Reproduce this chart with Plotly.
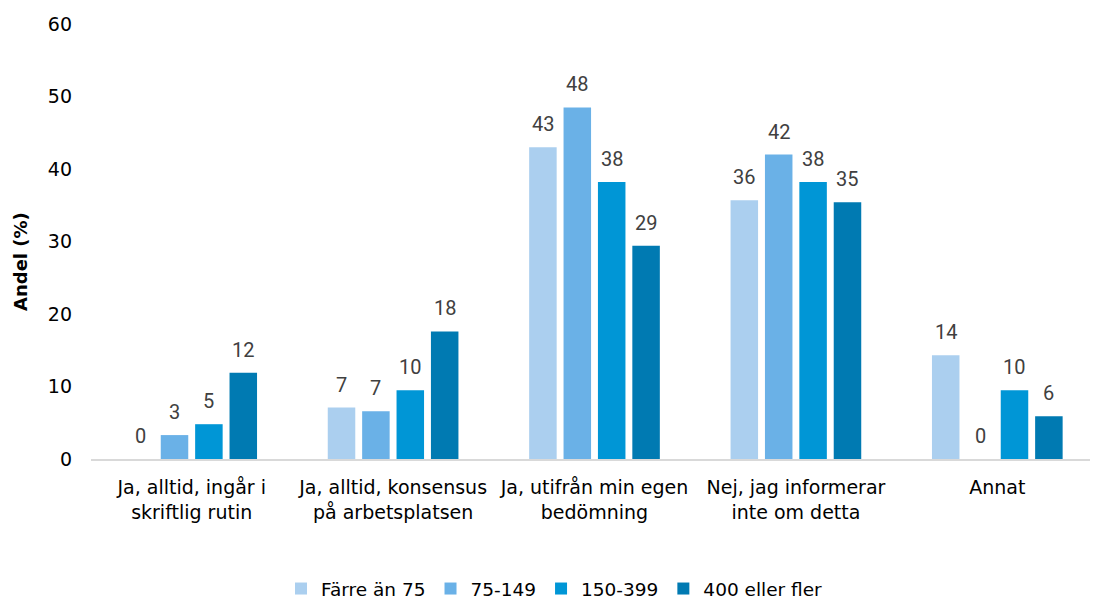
import plotly.graph_objects as go

categories = [
    "Ja, alltid, ingår i<br>skriftlig rutin",
    "Ja, alltid, konsensus<br>på arbetsplatsen",
    "Ja, utifrån min egen<br>bedömning",
    "Nej, jag informerar<br>inte om detta",
    "Annat",
]
series_names = ["Färre än 75", "75-149", "150-399", "400 eller fler"]
farre_an_75 = [0.0, 7.1, 43.0, 35.7, 14.3]
s_75_149 = [3.3, 6.6, 48.5, 42.0, 0.0]
s_150_399 = [4.8, 9.5, 38.2, 38.2, 9.5]
s_400_fler = [11.9, 17.6, 29.4, 35.4, 5.9]
y_ticks = [0, 10, 20, 30, 40, 50, 60]

colors = ["#ABCFEF", "#6AB1E7", "#0096D6", "#007AB2"]
values = [farre_an_75, s_75_149, s_150_399, s_400_fler]

# page body adds an 8px offset; margins compensate for it
W, H = 1098, 598
ML, MR, MT, MB = 83, 8, 16, 147
BARGAP, BARGROUPGAP = 0.317, 0.2
FONT = "DejaVu Sans"
plot_w = W - ML - MR
plot_h = H - MT - MB

fig = go.Figure()
for name, vals, col in zip(series_names, values, colors):
    fig.add_trace(go.Bar(
        x=categories, y=vals, name=name,
        marker=dict(color=col, line=dict(width=0)),
        cliponaxis=False,
    ))

# data labels placed through the axes, offset to each bar's slot
slot = plot_w / len(categories) * (1 - BARGAP) / len(values)
annotations = []
for i, vals in enumerate(values):
    off = (i - (len(values) - 1) / 2) * slot
    for cat, v in zip(categories, vals):
        annotations.append(dict(
            x=cat, y=v, xref="x", yref="y", text=f"{v:.0f}", showarrow=False,
            xanchor="center", yanchor="bottom", xshift=off, yshift=9,
            font=dict(family="Roboto", size=20, color="#404040"),
        ))
annotations.append(dict(
    xref="paper", yref="paper", x=(12 - ML) / plot_w, y=(H - MB - 254) / plot_h,
    text="<b>Andel (%)</b>", showarrow=False, textangle=-90,
    xanchor="center", yanchor="middle",
    font=dict(family=FONT, size=18, color="#000000"),
))

fig.update_layout(
    template="none",
    width=W, height=H,
    margin=dict(l=ML, r=MR, t=MT, b=MB, pad=0, autoexpand=False),
    paper_bgcolor="white", plot_bgcolor="white",
    barmode="group", bargap=BARGAP, bargroupgap=BARGROUPGAP,
    font=dict(family=FONT, size=19, color="#000000"),
    showlegend=True,
    legend=dict(orientation="h", xref="container", x=546.5 / W, xanchor="center",
                yref="container", y=(H - 581) / H, yanchor="middle",
                font=dict(family=FONT, size=18.5, color="#000000"),
                itemwidth=30, traceorder="normal"),
    xaxis=dict(showline=True, linecolor="#D9D9D9", linewidth=2, ticks="", showgrid=False,
               automargin=False, ticklabelstandoff=10,
               tickfont=dict(family=FONT, size=19, color="#000000")),
    yaxis=dict(range=[0, 60], tickvals=y_ticks, showgrid=False, zeroline=False,
               showline=False, ticks="", ticklabelstandoff=18, automargin=False,
               tickfont=dict(family=FONT, size=19, color="#000000")),
    annotations=annotations,
)
fig.write_html("out.html")
